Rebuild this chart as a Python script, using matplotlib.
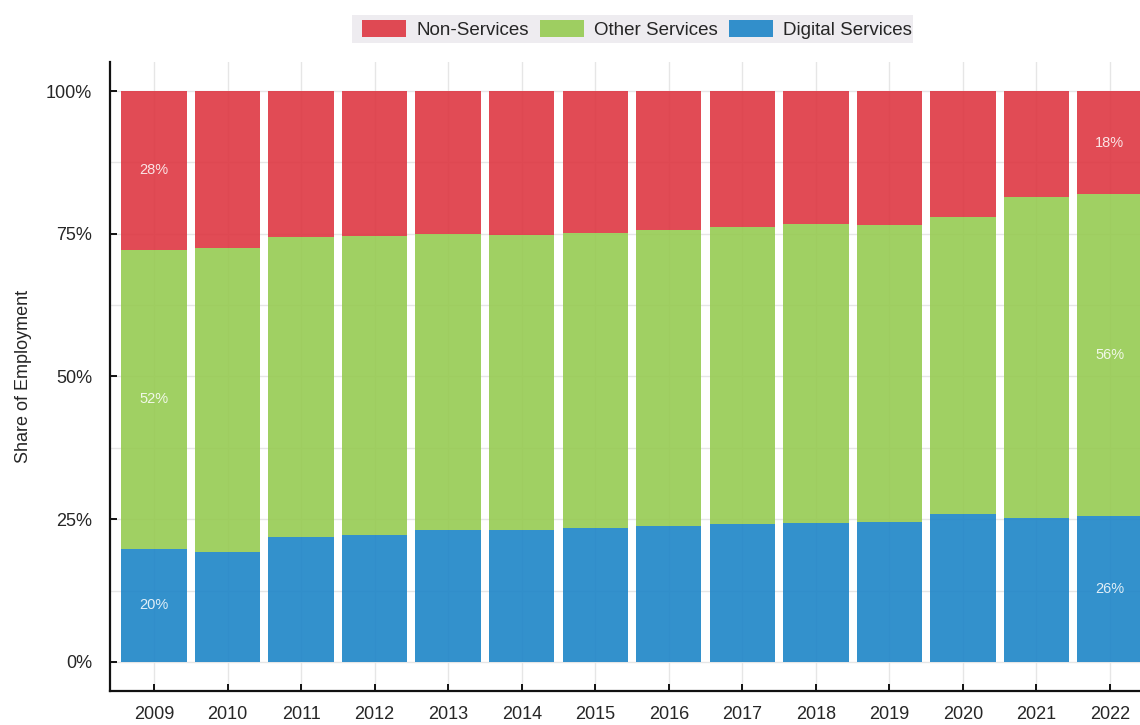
import matplotlib
matplotlib.use("Agg")
import matplotlib.pyplot as plt
import numpy as np
from matplotlib.patches import Patch, Rectangle

plt.rcParams['font.family'] = ['Liberation Sans', 'DejaVu Sans']

years = ["2009", "2010", "2011", "2012", "2013", "2014", "2015",
         "2016", "2017", "2018", "2019", "2020", "2021", "2022"]
digital = [19.8, 19.2, 21.9, 22.3, 23.1, 23.1, 23.4, 23.8, 24.2, 24.3, 24.6, 25.9, 25.2, 25.6]
other = [52.4, 53.3, 52.5, 52.3, 51.9, 51.7, 51.8, 51.9, 51.9, 52.4, 52.0, 52.0, 56.2, 56.3]
non_services = [27.8, 27.5, 25.6, 25.4, 25.0, 25.2, 24.8, 24.3, 23.9, 23.3, 23.4, 22.1, 18.6, 18.1]

series_names = ["Non-Services", "Other Services", "Digital Services"]
colors = {"Non-Services": "#de3742", "Other Services": "#96cb52", "Digital Services": "#1d85c7"}
alpha = 0.9

fig = plt.figure(figsize=(11.4, 7.25), dpi=100)
ax = fig.add_axes([110 / 1140, 34 / 725, 1044 / 1140, 629 / 725])

x = np.arange(len(years))
d = np.array(digital) / 100
o = np.array(other) / 100
n = np.array(non_services) / 100
w = 0.89

ax.bar(x, d, width=w, color=colors["Digital Services"], alpha=alpha, zorder=2, linewidth=0)
ax.bar(x, o, width=w, bottom=d, color=colors["Other Services"], alpha=alpha, zorder=2, linewidth=0)
ax.bar(x, n, width=w, bottom=d + o, color=colors["Non-Services"], alpha=alpha, zorder=2, linewidth=0)

# labels on first and last bars
for i in [0, len(years) - 1]:
    segs = [(d[i], 0), (o[i], d[i]), (n[i], d[i] + o[i])]
    for val, bot in segs:
        ax.text(x[i], bot + val / 2, f"{val * 100:.0f}%", ha='center', va='center',
                color='white', alpha=0.85, fontsize=10.5, zorder=3)

ax.set_xlim(-0.6, 13.6)
ax.set_ylim(-0.0508, 1.0508)
ax.set_xticks(x)
ax.set_xticklabels(years)
ax.set_yticks([0, 0.25, 0.5, 0.75, 1.0])
ax.set_yticklabels(["0%", "25%", "50%", "75%", "100%"])
ax.set_yticks(np.arange(0, 1.01, 0.125), minor=True)

ax.grid(True, which='both', axis='y', color='#e6e6e6', linewidth=1, zorder=0)
ax.grid(True, which='major', axis='x', color='#e6e6e6', linewidth=1, zorder=0)
ax.set_axisbelow(True)

for s in ['top', 'right']:
    ax.spines[s].set_visible(False)
for s in ['left', 'bottom']:
    ax.spines[s].set_linewidth(1.6)
    ax.spines[s].set_color('#111111')

ax.tick_params(axis='both', which='major', direction='in', length=5, width=1.4,
               colors='#111111', labelcolor='#262626', labelsize=13)
ax.tick_params(axis='y', which='minor', length=0)
ax.tick_params(axis='y', pad=13)
ax.tick_params(axis='x', pad=11)

ax.set_ylabel("Share of Employment", fontsize=13, color='#262626', labelpad=10)

# legend background box
fig.patches.append(Rectangle((352 / 1140, 1 - 43 / 725), 561 / 1140, 28 / 725,
                             transform=fig.transFigure, facecolor='#eeecf0',
                             edgecolor='none', zorder=0))

handles = [Patch(facecolor=colors[s], alpha=alpha, edgecolor='none') for s in series_names]
leg = fig.legend(handles, series_names, loc='center', ncol=3,
                 bbox_to_anchor=(637 / 1140, 1 - 29.5 / 725),
                 fontsize=13.5, frameon=False, handlelength=2.35,
                 handleheight=1.0, handletextpad=0.53, columnspacing=0.6,
                 borderpad=0.0, labelcolor='#262626')

fig.savefig("out.png", dpi=100)
